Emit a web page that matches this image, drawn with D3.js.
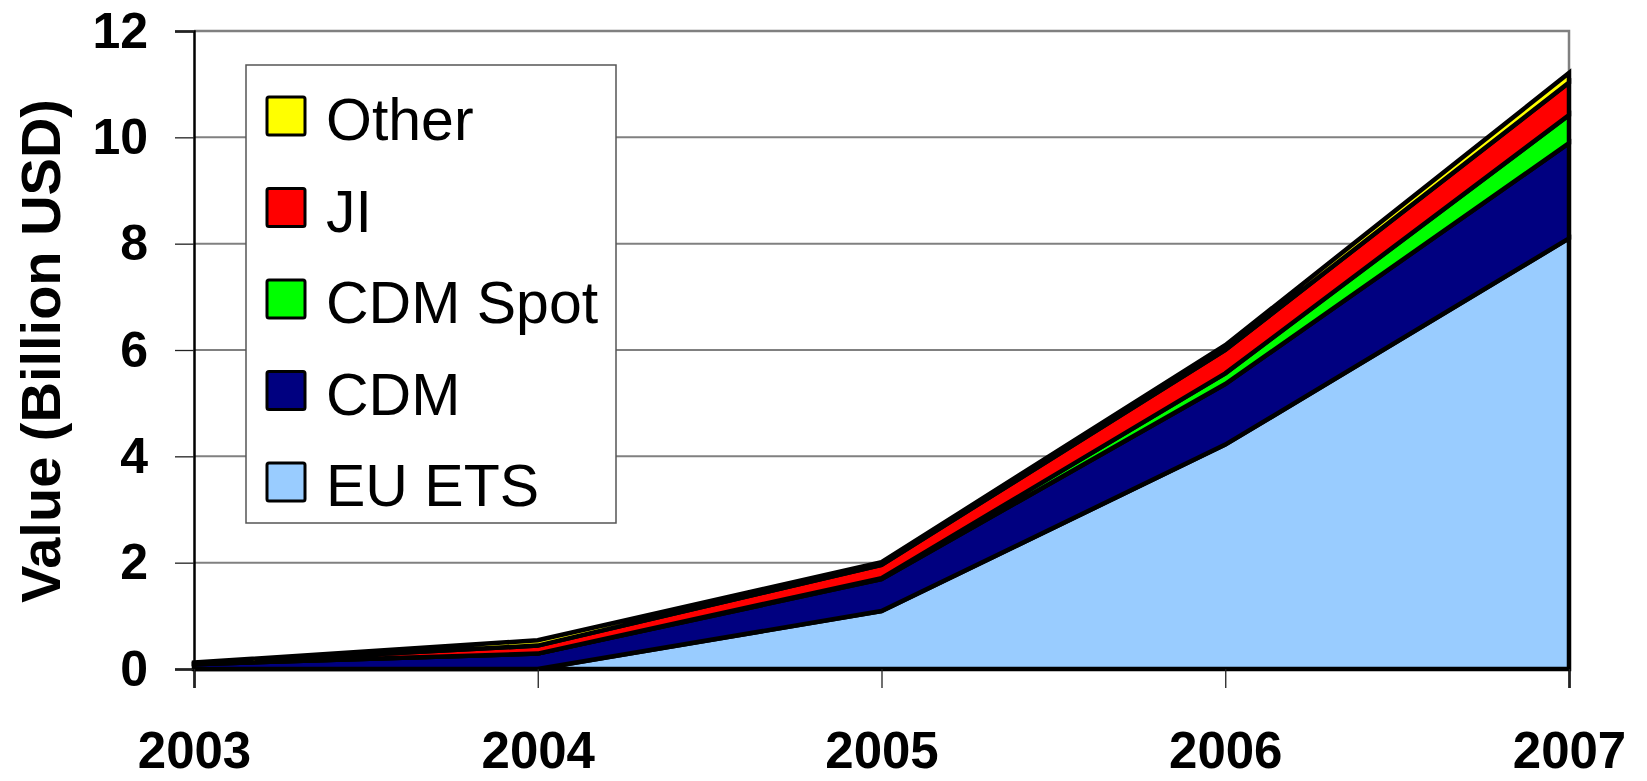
<!DOCTYPE html>
<html>
<head>
<meta charset="utf-8">
<script src="https://cdn.jsdelivr.net/npm/d3@7"></script>
<style>
  html, body { margin: 0; padding: 0; background: #fff; }
  svg { display: block; font-family: "Liberation Sans", Arial, sans-serif; }
</style>
</head>
<body>
<svg id="chart" width="1647" height="781"></svg>
<script>
// Carbon market value by segment, billion USD
const years = [2003, 2004, 2005, 2006, 2007];
const euEts   = [0.00, 0.00, 1.09, 4.22, 8.10];
const cdm     = [0.09, 0.29, 0.60, 1.14, 1.79];
const cdmSpot = [0.00, 0.00, 0.02, 0.20, 0.53];
const ji      = [0.01, 0.15, 0.25, 0.44, 0.61];
const other   = [0.02, 0.10, 0.05, 0.09, 0.18];

const seriesNames  = ["EU ETS", "CDM", "CDM Spot", "JI", "Other"];
const seriesColors = ["#99CCFF", "#000080", "#00FF00", "#FF0000", "#FFFF00"];
const yTicks = [0, 2, 4, 6, 8, 10, 12];

const seriesValues = [euEts, cdm, cdmSpot, ji, other];
const rows = years.map((yr, i) => {
  const r = { year: yr };
  seriesNames.forEach((n, k) => { r[n] = seriesValues[k][i]; });
  return r;
});

const svg = d3.select("#chart");
const plotLeft = 194, plotRight = 1569, plotTop = 31, plotBottom = 669;

const x = d3.scaleLinear().domain([2003, 2007]).range([plotLeft, plotRight]);
const y = d3.scaleLinear().domain([0, 12]).range([plotBottom, plotTop]);

// gridlines
svg.append("g")
  .selectAll("line")
  .data(yTicks.filter(t => t > 0 && t < 12))
  .join("line")
  .attr("x1", plotLeft).attr("x2", plotRight)
  .attr("y1", d => y(d)).attr("y2", d => y(d))
  .attr("stroke", "#808080").attr("stroke-width", 2);

// plot frame (top and right)
svg.append("path")
  .attr("d", `M${plotLeft},${y(12)}H${plotRight}V${plotBottom}`)
  .attr("fill", "none").attr("stroke", "#808080").attr("stroke-width", 2.5);

// stacked areas
const stack = d3.stack().keys(seriesNames);
const layers = stack(rows);
const area = d3.area()
  .x(d => x(d.data.year))
  .y0(d => y(d[0]))
  .y1(d => y(d[1]));

svg.append("g")
  .selectAll("path")
  .data(layers)
  .join("path")
  .attr("d", area)
  .attr("fill", (d, i) => seriesColors[i])
  .attr("stroke", "#000")
  .attr("stroke-width", 4.5)
  .attr("stroke-linejoin", "miter");

// y axis
const yAxis = d3.axisLeft(y).tickValues(yTicks).tickSize(19).tickPadding(27).tickFormat(d3.format("d"));
const gy = svg.append("g").attr("transform", `translate(${plotLeft},0)`).call(yAxis);
gy.select(".domain").attr("stroke", "#000").attr("stroke-width", 2.5);
gy.selectAll(".tick line").attr("stroke", "#222").attr("stroke-width", 1.3);
gy.selectAll(".tick text")
  .attr("font-size", 50).attr("font-weight", "bold")
  .attr("font-family", "'Liberation Sans', Arial, sans-serif")
  .attr("fill", "#000");

// x axis
const xAxis = d3.axisBottom(x).tickValues(years).tickSize(19).tickPadding(0).tickFormat(d3.format("d"));
const gx = svg.append("g").attr("transform", `translate(0,${plotBottom})`).call(xAxis);
gx.select(".domain").attr("stroke", "#000").attr("stroke-width", 2.5);
gx.selectAll(".tick line").attr("stroke", "#222").attr("stroke-width", 1.3);
gx.selectAll(".tick text")
  .attr("dy", null)
  .attr("y", 99)
  .attr("font-size", 51).attr("font-weight", "bold")
  .attr("font-family", "'Liberation Sans', Arial, sans-serif")
  .attr("fill", "#000");

// y axis title
svg.append("text")
  .attr("transform", "translate(60,351) rotate(-90)")
  .attr("text-anchor", "middle")
  .attr("font-size", 56).attr("font-weight", "bold")
  .attr("fill", "#000")
  .text("Value (Billion USD)");

// legend
const lg = svg.append("g").attr("transform", "translate(246,65)");
lg.append("rect")
  .attr("width", 370).attr("height", 458)
  .attr("fill", "#fff").attr("stroke", "#555").attr("stroke-width", 1.5);

const legendOrder = d3.range(seriesNames.length).reverse();
const items = lg.selectAll("g.item")
  .data(legendOrder)
  .join("g")
  .attr("class", "item")
  .attr("transform", (d, i) => `translate(0,${i * 91.5})`);

items.append("rect")
  .attr("x", 21).attr("y", 32).attr("width", 38).attr("height", 38)
  .attr("rx", 2)
  .attr("fill", d => seriesColors[d])
  .attr("stroke", "#000").attr("stroke-width", 3);

items.append("text")
  .attr("x", 80).attr("y", 75)
  .attr("font-size", 59)
  .attr("fill", "#000")
  .text(d => seriesNames[d]);
</script>
</body>
</html>
